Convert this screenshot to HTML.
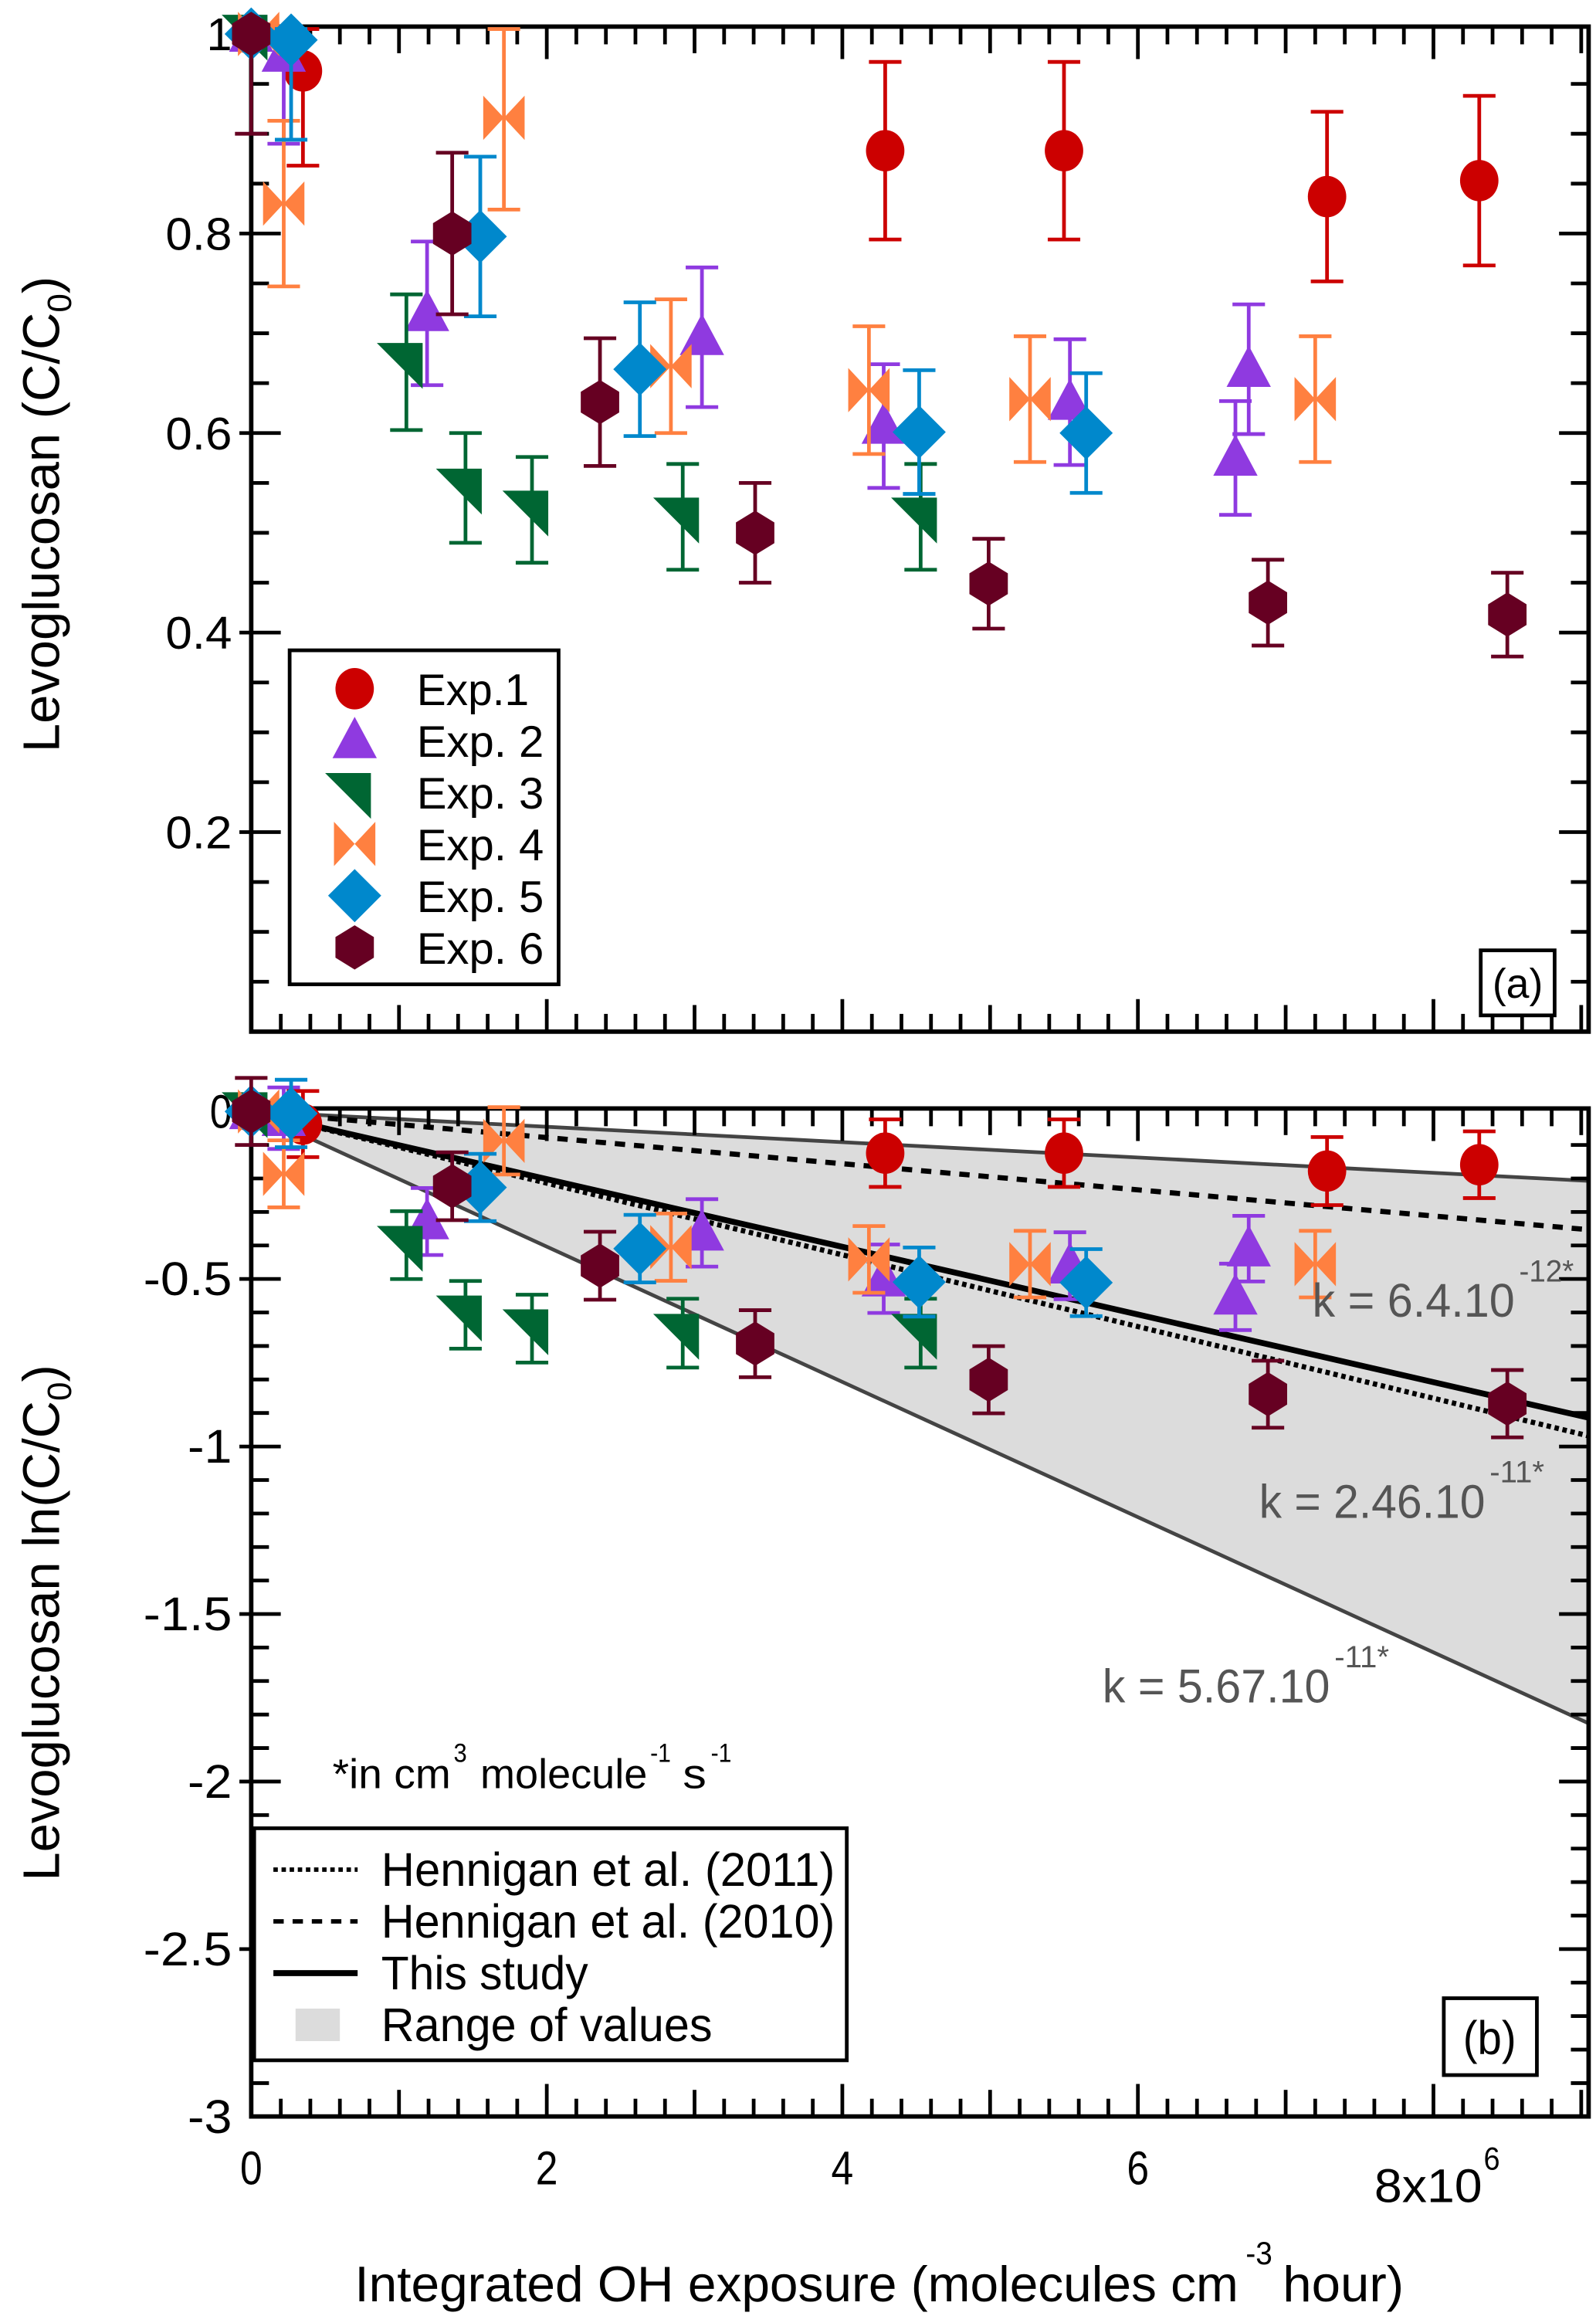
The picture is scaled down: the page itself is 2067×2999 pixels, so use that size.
<!DOCTYPE html>
<html><head><meta charset="utf-8"><style>
html,body{margin:0;padding:0;background:#fff}
svg{display:block}
text{font-family:"Liberation Sans",sans-serif}
</style></head><body>
<svg id="chart" width="2067" height="2999" viewBox="0 0 1080 1567" preserveAspectRatio="none" xmlns="http://www.w3.org/2000/svg">
<g id="gA"></g>
<g id="gB"></g>
</svg>
<script>
const expNames=["Exp.1","Exp. 2","Exp. 3","Exp. 4","Exp. 5","Exp. 6"];
const expColors=["#cc0000","#8f3ae0","#006633","#ff8040","#0088cc","#660022"];
const exp1X=[0,0.35,4.29,5.5,7.28,8.31];
const exp1Y=[1,0.963,0.883,0.883,0.837,0.853];
const exp1E=[0,0.095,0.089,0.089,0.085,0.085];
const exp2X=[0,0.22,1.19,3.05,4.28,5.54,6.66,6.75];
const exp2Y=[1,0.98,0.72,0.696,0.607,0.631,0.575,0.664];
const exp2E=[0,0.09,0.072,0.07,0.062,0.063,0.057,0.065];
const exp3X=[0,1.05,1.45,1.9,2.92,4.53];
const exp3Y=[1,0.671,0.545,0.523,0.516,0.516];
const exp3E=[0,0.068,0.055,0.053,0.053,0.053];
const exp4X=[0.05,0.22,1.71,2.84,4.18,5.27,7.2];
const exp4Y=[1,0.83,0.916,0.667,0.643,0.634,0.634];
const exp4E=[0,0.083,0.092,0.067,0.064,0.063,0.063];
const exp5X=[0,0.27,1.55,2.63,4.52,5.65];
const exp5Y=[1,0.994,0.797,0.664,0.601,0.6];
const exp5E=[0,0.1,0.08,0.067,0.062,0.06];
const exp6X=[0,1.36,2.36,3.41,4.99,6.88,8.5];
const exp6Y=[1,0.8,0.631,0.5,0.449,0.43,0.418];
const exp6E=[0.1,0.081,0.064,0.05,0.045,0.043,0.042];
const lineNames=["k-6.4e-12","hennigan-2010","this-study","hennigan-2011","k-5.67e-11"];
const lineSlopes=[-0.0229,-0.039,-0.101,-0.107,-0.2018];
const xTickLabels=["0","2","4","6"];
const yTicksA=[0.2,0.4,0.6,0.8];
const yTicksB=["0","-0.5","-1","-1.5","-2","-2.5","-3"];

const NS="http://www.w3.org/2000/svg";
function mk(p,t,a){const e=document.createElementNS(NS,t);for(const k in a)e.setAttribute(k,a[k]);p.appendChild(e);return e;}
function txt(p,x,y,s,size,len,anchor,fill){const a={x:x,y:y,'font-size':size};
  if(len){a.textLength=len;a.lengthAdjust='spacingAndGlyphs';}
  if(anchor)a['text-anchor']=anchor;if(fill)a.fill=fill;const t=mk(p,'text',a);t.textContent=s;return t;}
const L=170,R=1075;
const xs=v=>L+v*100;
const yA=v=>698-v*675;
const yBf=v=>752+(-v)*226.7;

function marker(g,i,cx,cy){
  const c=expColors[i];let el;
  if(i===0) el=mk(g,'ellipse',{cx:cx,cy:cy,rx:13,ry:14,fill:c});
  else if(i===1) el=mk(g,'polygon',{points:`${cx},${cy-16} ${cx+15},${cy+12} ${cx-15},${cy+12}`,fill:c});
  else if(i===2) el=mk(g,'polygon',{points:`${cx-20},${cy-13} ${cx+11},${cy-13} ${cx+11},${cy+18}`,fill:c});
  else if(i===3){ el=mk(g,'g',{});
    mk(el,'polygon',{points:`${cx-14},${cy-15} ${cx},${cy} ${cx-14},${cy+15}`,fill:c});
    mk(el,'polygon',{points:`${cx+14},${cy-15} ${cx},${cy} ${cx+14},${cy+15}`,fill:c}); }
  else if(i===4) el=mk(g,'polygon',{points:`${cx},${cy-18} ${cx+18},${cy} ${cx},${cy+18} ${cx-18},${cy}`,fill:c});
  else el=mk(g,'polygon',{points:`${cx},${cy-15} ${cx+13},${cy-7} ${cx+13},${cy+7} ${cx},${cy+15} ${cx-13},${cy+7} ${cx-13},${cy-7}`,fill:c});
  return el;
}
function errbar(g,c,cx,y1,y2){
  mk(g,'line',{x1:cx,x2:cx,y1:y1,y2:y2,stroke:c,'stroke-width':2.5});
  mk(g,'line',{x1:cx-11,x2:cx+11,y1:y1,y2:y1,stroke:c,'stroke-width':2.5});
  mk(g,'line',{x1:cx-11,x2:cx+11,y1:y2,y2:y2,stroke:c,'stroke-width':2.5});
}
const allX=[exp1X,exp2X,exp3X,exp4X,exp5X,exp6X],allY=[exp1Y,exp2Y,exp3Y,exp4Y,exp5Y,exp6Y],allE=[exp1E,exp2E,exp3E,exp4E,exp5E,exp6E];

function frame(g,top,bot,yMinorList,yMajorList){
  for(let i=0;i<=45;i++){const v=i*0.2;const x=xs(v);if(x>R)break;
    const len=(i%10===0)?22:(i%5===0)?18:12;
    mk(g,'line',{x1:x,x2:x,y1:bot,y2:bot-len,stroke:'#000','stroke-width':2.5});
    mk(g,'line',{x1:x,x2:x,y1:top,y2:top+len,stroke:'#000','stroke-width':2.5});}
  yMinorList.forEach(y=>{mk(g,'line',{x1:L,x2:L+12,y1:y,y2:y,stroke:'#000','stroke-width':2.5});mk(g,'line',{x1:R,x2:R-12,y1:y,y2:y,stroke:'#000','stroke-width':2.5});});
  yMajorList.forEach(y=>{mk(g,'line',{x1:L-8,x2:L+20,y1:y,y2:y,stroke:'#000','stroke-width':2.5});mk(g,'line',{x1:R,x2:R-20,y1:y,y2:y,stroke:'#000','stroke-width':2.5});});
  const r=mk(g,'rect',{x:L,y:top,width:R-L,height:bot-top,fill:'none',stroke:'#000','stroke-width':3});
  
}

// Panel A
const gA=document.getElementById('gA');
(function(){
  const minors=[],majors=[];
  for(let i=1;i<=19;i++){const v=i*0.05;(i%4===0?majors:minors).push(yA(v));}
  frame(gA,18,698,minors,majors);
  yTicksA.forEach(v=>{const t=txt(gA,157,yA(v)+11,v.toFixed(1),31,45,'end');
    });
  const t1=txt(gA,157,yA(1)+11,'1',31,0,'end');
  
  const yt=mk(gA,'text',{x:0,y:0,'font-size':35,'text-anchor':'middle',transform:'translate(40,348) rotate(-90)'});
  yt.innerHTML='Levoglucosan (C/C<tspan font-size="23" dy="8">0</tspan><tspan dy="-8">)</tspan>';
  
  allX.forEach((X,i)=>{const g=mk(gA,'g',{});
    
    X.forEach((x,j)=>{const v=allY[i][j],e=allE[i][j];
      if(e>0)errbar(g,expColors[i],xs(x),yA(Math.min(v+e,1.005)),yA(v-e));
      const m=marker(g,i,xs(x),yA(v));});});
  const lg=mk(gA,'g',{});
  mk(lg,'rect',{x:196,y:440,width:182,height:226,fill:'#fff',stroke:'#000','stroke-width':2.5});
  expNames.forEach((n,i)=>{const y=466+i*35;const m=marker(lg,i,240,y);
    
    const t=txt(lg,282,y+11,n,30,i===0?76:86);
    });
  mk(gA,'rect',{x:1002,y:643,width:50,height:44,fill:'#fff',stroke:'#000','stroke-width':2.5});
  const pl=txt(gA,1027,675,'(a)',28,0,'middle');
  
})();

// Panel B
const gB=document.getElementById('gB');
(function(){
  const top=750,bot=1432;
  const xEnd=(R-L)/100;
  const sh=mk(gB,'polygon',{points:`${xs(0)},${yBf(0)} ${R},${yBf(lineSlopes[0]*xEnd)} ${R},${yBf(lineSlopes[4]*xEnd)}`,fill:'#dcdcdc'});
  
  const styles=[{s:'#444',w:2.5,d:''},{s:'#000',w:3.5,d:'7,6'},{s:'#000',w:4,d:''},{s:'#000',w:3.5,d:'3,2.5'},{s:'#444',w:2.5,d:''}];
  lineSlopes.forEach((k,i)=>{const a={x1:xs(0),y1:yBf(0),x2:R,y2:yBf(k*xEnd),stroke:styles[i].s,'stroke-width':styles[i].w};
    if(styles[i].d)a['stroke-dasharray']=styles[i].d;const l=mk(gB,'line',a);
    });
  const minors=[],majors=[];
  for(let i=1;i<30;i++){const v=-i*0.1;(i%5===0?majors:minors).push(yBf(v));}
  frame(gB,top,bot,minors,majors);
  yTicksB.forEach((s,i)=>{const t=txt(gB,157,yBf(-i*0.5)+11,s,32,s.length*15,'end');
    });
  const yt=mk(gB,'text',{x:0,y:0,'font-size':35,'text-anchor':'middle',transform:'translate(40,1098) rotate(-90)'});
  yt.innerHTML='Levoglucosan ln(C/C<tspan font-size="23" dy="8">0</tspan><tspan dy="-8">)</tspan>';
  
  allX.forEach((X,i)=>{const g=mk(gB,'g',{});
    
    X.forEach((x,j)=>{const v=Math.log(allY[i][j]),e=allE[i][j]/allY[i][j];
      if(e>0)errbar(g,expColors[i],xs(x),yBf(v+e),yBf(v-e));
      const m=marker(g,i,xs(x),yBf(v));});});
  xTickLabels.forEach((s,i)=>{const t=txt(gB,xs(i*2),1478,s,32,15,'middle');
    });
  const g8=mk(gB,'g',{});
  txt(g8,930,1490,'8x10',32,73);txt(g8,1004,1468,'6',22,11);
  const gx=mk(gB,'g',{});
  txt(gx,240,1557,'Integrated OH exposure (molecules cm',34,598);
  txt(gx,843,1532,'-3',22,18);
  txt(gx,868,1557,'hour)',34,82);
  const ann=[[888,891,'k = 6.4.10',137,1028,'-12*'],[852,1027,'k = 2.46.10',153,1008,'-11*'],[746,1152,'k = 5.67.10',154,903,'-11*']];
  ann.forEach(a=>{const g=mk(gB,'g',{});
    txt(g,a[0],a[1],a[2],32,a[3],'', '#555');txt(g,a[4],a[1]-24,a[5],21,37,'','#555');});
  const u=mk(gB,'g',{});
  txt(u,225,1210,'*in cm',28,80);txt(u,307,1192,'3',18,9);txt(u,325,1210,'molecule',28,113);
  txt(u,440,1192,'-1',18,14);txt(u,462,1210,'s',28,16);txt(u,481,1192,'-1',18,14);
  const lg=mk(gB,'g',{});
  mk(lg,'rect',{x:172,y:1237,width:401,height:157,fill:'#fff',stroke:'#000','stroke-width':2.5});
  const ln=[['Hennigan et al. (2011)','3,2.5',3,307],['Hennigan et al. (2010)','7,6',3,307],['This study','',4,140]];
  ln.forEach((l,i)=>{const y=1265+i*35;const a={x1:185,x2:242,y1:y,y2:y,stroke:'#000','stroke-width':l[2]};if(l[1])a['stroke-dasharray']=l[1];
    const m=mk(lg,'line',a);
    const t=txt(lg,258,y+11,l[0],32,l[3]);
    });
  const sw=mk(lg,'rect',{x:200,y:1359,width:30,height:22,fill:'#dcdcdc'});
  const tr=txt(lg,258,1381,'Range of values',32,224);
  
  mk(gB,'rect',{x:977,y:1352,width:63,height:52,fill:'#fff',stroke:'#000','stroke-width':2.5});
  const pl=txt(gB,1008,1390,'(b)',32,36,'middle');
  
})();
</script>
</body></html>
